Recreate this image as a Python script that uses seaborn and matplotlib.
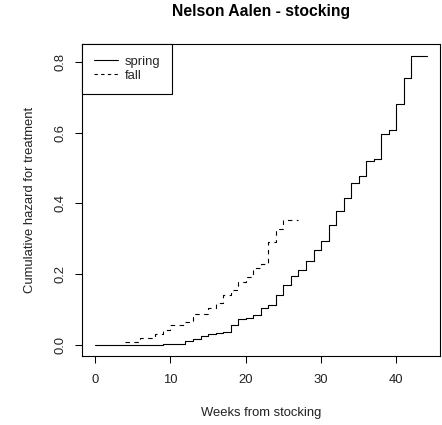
import pandas as pd
import matplotlib
matplotlib.use("Agg")
import matplotlib.pyplot as plt
import seaborn as sns

# Nelson-Aalen cumulative hazard
spring_weeks = [0, 9, 12, 13, 14, 15, 16, 17, 18, 19, 20, 21, 22, 23, 24, 25, 26,
                27, 28, 29, 30, 31, 32, 33, 34, 35, 36, 37, 38, 39, 40, 41, 42, 44]
spring_hazard = [0.0, 0.003, 0.010, 0.017, 0.024, 0.029, 0.032, 0.036, 0.056, 0.072,
                 0.075, 0.083, 0.104, 0.111, 0.141, 0.168, 0.194, 0.211, 0.236, 0.268,
                 0.293, 0.338, 0.377, 0.415, 0.457, 0.476, 0.519, 0.526, 0.596, 0.608,
                 0.680, 0.754, 0.818, 0.818]

fall_weeks = [4, 6, 8, 9, 10, 12, 13, 15, 16, 17, 18, 19, 20, 21, 22, 23, 24, 25, 27]
fall_hazard = [0.0075, 0.020, 0.029, 0.041, 0.055, 0.064, 0.086, 0.104, 0.119, 0.139,
               0.154, 0.178, 0.192, 0.216, 0.227, 0.290, 0.328, 0.352, 0.352]

x_ticks = [0, 10, 20, 30, 40]
y_ticks = [0.0, 0.2, 0.4, 0.6, 0.8]

df = pd.concat([
    pd.DataFrame({"week": spring_weeks, "hazard": spring_hazard, "season": "spring"}),
    pd.DataFrame({"week": fall_weeks, "hazard": fall_hazard, "season": "fall"}),
])

sns.set_style("white")
plt.rcParams["font.family"] = ["Liberation Sans", "DejaVu Sans"]

fig = plt.figure(figsize=(4.42, 4.25), dpi=100)
ax = fig.add_axes([0.185, 0.162, 0.81, 0.7345])

sns.lineplot(data=df, x="week", y="hazard", style="season",
             dashes={"spring": "", "fall": (4, 4)}, color="black",
             linewidth=0.8, drawstyle="steps-post", estimator=None, sort=False,
             legend=False, ax=ax)

ax.set_xlim(-1.76, 45.76)
ax.set_ylim(-0.0327, 0.851)
ax.set_xticks(x_ticks)
ax.set_xticklabels([str(t) for t in x_ticks])
ax.set_yticks(y_ticks)
ax.set_yticklabels([f"{t:.1f}" for t in y_ticks], rotation=90, va="center")
ax.tick_params(direction="out", length=5, width=0.75, color="black",
               labelsize=9.4, labelcolor="#222222", bottom=True, left=True)
ax.tick_params(axis="x", pad=8)
ax.tick_params(axis="y", pad=6)
for s in ax.spines.values():
    s.set_color("black")
    s.set_linewidth(0.8)

ax.set_xlabel("Weeks from stocking", fontsize=9.4, color="#222222")
ax.set_ylabel("Cumulative hazard for treatment", fontsize=9.4, color="#222222")
ax.xaxis.label.set_va("center")
ax.yaxis.label.set_va("center")
ax.xaxis.set_label_coords(0.5, -0.183)
ax.yaxis.set_label_coords(-0.144, 0.5)

fig.text(0.591, 0.972, "Nelson Aalen - stocking", ha="center", va="center",
         fontsize=11.3, fontweight="bold", color="black")

handles = [plt.Line2D([], [], color="black", lw=0.8),
           plt.Line2D([], [], color="black", lw=0.8, dashes=(3, 3))]
leg = ax.legend(handles, ["spring", "fall"], loc="upper left", borderaxespad=0,
                fancybox=False, framealpha=1, edgecolor="black", fontsize=9.4,
                handlelength=1.85, handletextpad=0.55, borderpad=0.9,
                labelspacing=0.15)
leg.get_frame().set_linewidth(0.8)

fig.savefig("out.png", dpi=100)
